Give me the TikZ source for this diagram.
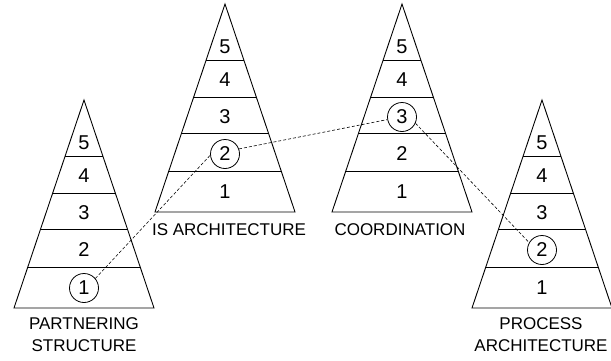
\documentclass[tikz,border=0pt]{standalone}
\usepackage{fontspec}
\setmainfont{Liberation Sans}

\tikzset{
  pyrline/.style={line width=0.9pt},
  lvl/.style={font=\fontsize{20}{20}\selectfont, inner sep=0pt},
  ring/.style={circle, draw, line width=0.8pt, inner sep=0pt, minimum size=29pt},
  pyrtitle/.style={font=\fontsize{17}{22}\selectfont, align=center, inner sep=0pt},
  link/.style={line width=0.6pt, dash pattern=on 3pt off 2pt},
  % a five-level pyramid with its apex at the pic origin
  pics/pyramid/.style={code={
    \draw[pyrline, line join=miter] (-70,208) -- (0,0) -- (70,208) -- cycle;
    \foreach \d in {56,93,129,167}{
      \draw[pyrline] ({-70*\d/208},\d) -- ({70*\d/208},\d);
    }
    \node[lvl] (-l5) at (0,43)  {5};
    \node[lvl] (-l4) at (0,76)  {4};
    \node[lvl] (-l3) at (0,113) {3};
    \node[lvl] (-l2) at (0,150) {2};
    \node[lvl] (-l1) at (0,188) {1};
  }}
}

\begin{document}
\begin{tikzpicture}[x=1pt, y=-1pt]
  \useasboundingbox (0,0) rectangle (611,360);

  % the four pyramids
  \pic (ps) at (84,100)  {pyramid};
  \pic (is) at (225,4)   {pyramid};
  \pic (co) at (402,4)   {pyramid};
  \pic (pa) at (542,100) {pyramid};

  % captions
  \node[pyrtitle] (cps) at (84,335)  {PARTNERING\\STRUCTURE};
  \node[pyrtitle] (cis) at (229,230) {IS ARCHITECTURE};
  \node[pyrtitle] (cco) at (400,230) {COORDINATION};
  \node[pyrtitle] (cpa) at (541,335) {PROCESS\\ARCHITECTURE};

  % circled levels
  \node[ring] (r1) at (ps-l1) {};
  \node[ring] (r2) at (is-l2) {};
  \node[ring] (r3) at (co-l3) {};
  \node[ring] (r4) at (pa-l2) {};

  % dashed links between the circled levels
  \draw[link] (r1.40)  -- (r2.185);
  \draw[link] (r2.20)  -- (r3.190);
  \draw[link] (r3.-25) -- (r4.150);
\end{tikzpicture}
\end{document}
